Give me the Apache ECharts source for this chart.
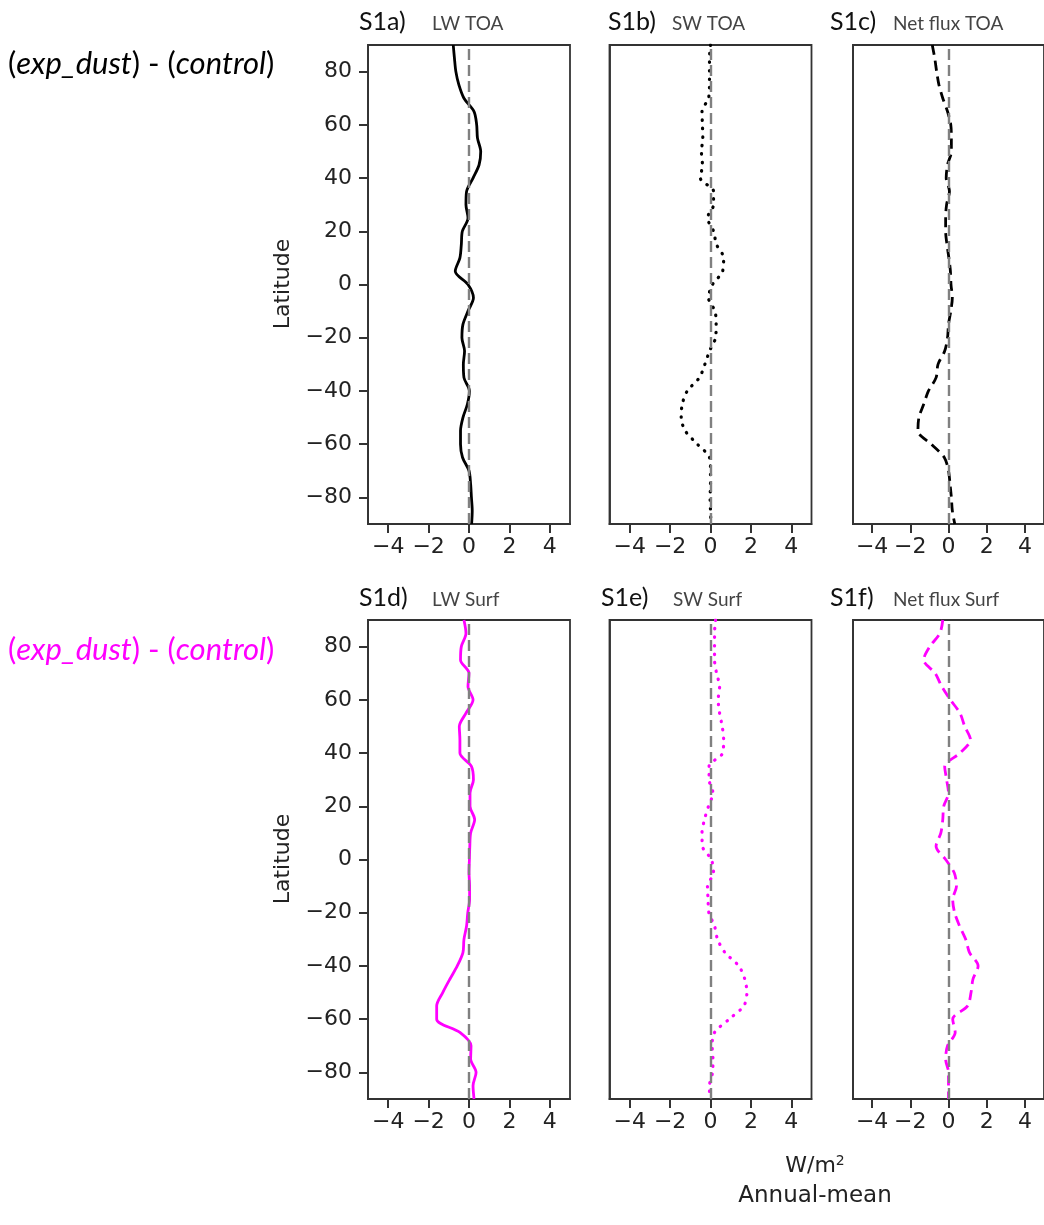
<!DOCTYPE html>
<html>
<head>
<meta charset="utf-8">
<script src="https://cdn.jsdelivr.net/npm/echarts@6/dist/echarts.min.js"></script>
<style>
html,body{margin:0;padding:0;background:#fff;}
#chart{width:1044px;height:1225px;}
</style>
</head>
<body>
<div id="chart"></div>
<script>
// Latitudes (degrees), shared by all panels
const lat = [90,85,80,75,70,65,60,55,50,45,40,35,30,25,20,15,10,5,0,-5,-10,-15,-20,-25,-30,-35,-40,-45,-50,-55,-60,-65,-70,-75,-80,-85,-90];

// Row 1: TOA differences (W/m2)
const lwToa  = [-0.78,-0.72,-0.65,-0.5,-0.25,0.25,0.38,0.42,0.58,0.5,0.2,-0.12,-0.15,-0.05,-0.33,-0.38,-0.45,-0.68,-0.05,0.22,-0.05,-0.3,-0.35,-0.22,-0.28,-0.25,0.02,-0.08,-0.3,-0.42,-0.42,-0.32,0.0,0.08,0.12,0.16,0.13];
const swToa  = [0.0,-0.05,-0.05,-0.05,-0.1,-0.42,-0.4,-0.38,-0.45,-0.4,-0.5,0.15,0.15,-0.15,0.15,0.3,0.65,0.6,0.1,-0.1,0.22,0.28,0.25,-0.05,-0.28,-0.55,-1.15,-1.4,-1.45,-1.25,-0.65,-0.05,0.0,0.0,-0.02,0.0,0.02];
const netToa = [-0.85,-0.72,-0.62,-0.5,-0.3,-0.05,0.12,0.15,0.15,-0.05,-0.12,0.05,-0.1,-0.15,-0.15,-0.08,0.02,0.1,0.13,0.2,0.12,0.0,-0.05,-0.2,-0.55,-0.65,-1.05,-1.3,-1.55,-1.6,-0.9,-0.22,0.0,0.08,0.15,0.2,0.33];

// Row 2: Surface differences (W/m2)
const lwSurf  = [-0.25,-0.15,-0.38,-0.42,0.0,-0.05,0.2,-0.15,-0.48,-0.45,-0.45,0.12,0.22,0.05,0.05,0.28,0.08,0.04,0.02,0.0,0.03,0.03,-0.06,-0.12,-0.25,-0.3,-0.58,-0.95,-1.3,-1.6,-1.6,-0.45,0.1,0.08,0.35,0.2,0.25];
const swSurf  = [0.25,0.2,0.2,0.2,0.3,0.45,0.38,0.45,0.58,0.65,0.6,-0.07,-0.07,0.12,-0.1,-0.3,-0.42,-0.4,0.04,0.15,-0.15,-0.12,-0.08,0.2,0.35,0.72,1.4,1.7,1.8,1.65,0.92,0.2,0.08,0.12,0.1,-0.05,-0.05];
const netSurf = [-0.3,-0.45,-0.98,-1.3,-0.7,-0.35,0.1,0.6,0.85,1.15,0.6,-0.2,-0.1,0.0,-0.25,-0.3,-0.4,-0.65,-0.15,0.3,0.42,0.22,0.32,0.58,0.9,1.1,1.55,1.28,1.18,1.0,0.22,0.35,-0.05,-0.15,0.0,0.0,0.0];

// Tick labels
const xTicks = [-4,-2,0,2,4];
const yTicks = [-80,-60,-40,-20,0,20,40,60,80];

// Panel titles
const panelIds = ['S1a)','S1b)','S1c)','S1d)','S1e)','S1f)'];
const panelNames = ['LW TOA','SW TOA','Net flux TOA','LW Surf','SW Surf','Net flux Surf'];

const chart = echarts.init(document.getElementById('chart'), null, {renderer:'canvas'});

const colLeft = [368, 609.5, 853];
const rowTop = [45, 620];
const W = 202, H = 479;
const minus = v => String(v).replace('-', '\u2212');

const panels = [
  {vals: lwToa,  color:'#000000', type:'solid'},
  {vals: swToa,  color:'#000000', type:'dotted'},
  {vals: netToa, color:'#000000', type:'dashed'},
  {vals: lwSurf, color:'#ff00ff', type:'solid'},
  {vals: swSurf, color:'#ff00ff', type:'dotted'},
  {vals: netSurf,color:'#ff00ff', type:'dashed'}
];

const grids = [], xAxes = [], yAxes = [], series = [];
panels.forEach((p, i) => {
  const r = Math.floor(i/3), c = i%3;
  grids.push({left: colLeft[c], top: rowTop[r], width: W, height: H, show: true,
    borderColor:'#333', borderWidth:1.8});
  xAxes.push({type:'value', gridIndex:i, min:-5, max:5,
    axisLine:{show:true, onZero:false, lineStyle:{color:'#333', width:1.8}}, splitLine:{show:false},
    axisTick:{show:true, length:9, customValues:xTicks, lineStyle:{color:'#333', width:2}},
    axisLabel:{show:true, margin:12, customValues:xTicks, formatter:minus,
      fontFamily:'DejaVu Sans', fontSize:22, color:'#222'}});
  const first = c === 0;
  yAxes.push({type:'value', gridIndex:i, min:-90, max:90,
    axisLine:{show:true, onZero:false, lineStyle:{color:'#333', width:1.8}}, splitLine:{show:false},
    axisTick:{show:first, length:9, customValues:yTicks, lineStyle:{color:'#333', width:2}},
    axisLabel:{show:first, margin:16, customValues:yTicks, formatter:minus,
      fontFamily:'DejaVu Sans', fontSize:22, color:'#222'}});
  let lineType, cap = 'butt', width = 2.8;
  if (p.type === 'solid') lineType = 'solid';
  else if (p.type === 'dotted') { lineType = [0.5, 8]; cap = 'round'; width = 3.2; }
  else lineType = [10, 6];
  series.push({type:'line', xAxisIndex:i, yAxisIndex:i, z:3,
    data: lat.map((l, k) => [p.vals[k], l]),
    showSymbol:false, smooth:0.3, clip:true,
    lineStyle:{color:p.color, width:width, type:lineType, cap:cap},
    markLine:{silent:true, symbol:['none','none'], label:{show:false}, animation:false,
      lineStyle:{color:'#808080', width:2.4, type:[11,5]}, data:[{xAxis:0}]}
  });
});

const graphic = [];
const idPos = [[359,22],[608,22],[830,22],[359,598],[601,598],[830,598]];
const namePos = [[432,24],[672,24],[893,24],[432,600],[673,600],[893,600]];
panelIds.forEach((t, i) => {
  graphic.push({type:'text', x:idPos[i][0], y:idPos[i][1],
    style:{text:t, font:'25px Lato', fill:'#111', verticalAlign:'middle'}});
  graphic.push({type:'text', x:namePos[i][0], y:namePos[i][1],
    style:{text:panelNames[i], font:'19px Lato', fill:'#444', verticalAlign:'middle'}});
});
graphic.push({type:'text', x:283, y:284, rotation:Math.PI/2,
  style:{text:'Latitude', font:'22px "DejaVu Sans"', fill:'#222', align:'center', verticalAlign:'middle'}});
graphic.push({type:'text', x:283, y:859, rotation:Math.PI/2,
  style:{text:'Latitude', font:'22px "DejaVu Sans"', fill:'#222', align:'center', verticalAlign:'middle'}});

function rowLabel(y, color) {
  return {type:'text', x:8, y:y, style:{
    text:'(' + '{i|exp_dust}' + ') - (' + '{i|control}' + ')',
    font:'31px Lato', fill:color, verticalAlign:'middle',
    rich:{i:{fontStyle:'italic', fontFamily:'Lato', fontSize:31, fill:color, color:color}}
  }};
}
graphic.push(rowLabel(64, '#000'));
graphic.push(rowLabel(650, '#ff00ff'));

graphic.push({type:'text', x:815, y:1166, style:{text:'W/m{s|2}', font:'22px "DejaVu Sans"', fill:'#222', align:'center', verticalAlign:'middle',
  rich:{s:{fontSize:14, fontFamily:'DejaVu Sans', verticalAlign:'top', padding:[0,0,10,0], fill:'#222', color:'#222'}}}});
graphic.push({type:'text', x:815, y:1196, style:{text:'Annual-mean', font:'23px "DejaVu Sans"', fill:'#222', align:'center', verticalAlign:'middle'}});

chart.setOption({
  animation:false,
  backgroundColor:'#fff',
  grid:grids, xAxis:xAxes, yAxis:yAxes, series:series, graphic:graphic
});
</script>
</body>
</html>
